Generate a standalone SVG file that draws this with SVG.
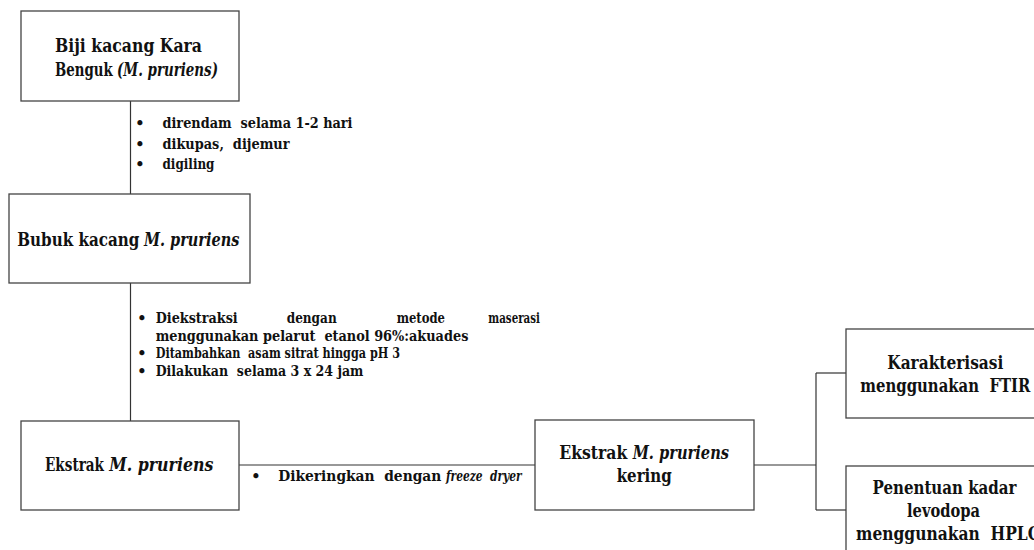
<svg xmlns="http://www.w3.org/2000/svg" width="1034" height="550" viewBox="0 0 1034 550">
<style>
.box{fill:#fff;stroke:#444;stroke-width:1.3}
.ln{fill:none;stroke:#333;stroke-width:1.2}
.bt{font-weight:bold;font-size:18px;fill:#111}
.st{font-weight:bold;font-size:14.5px;fill:#111}
.i{font-style:italic}
</style>
<rect width="1034" height="550" fill="#fff"/>
<g id="connectors">
<line class="ln" x1="130.5" y1="101" x2="130.5" y2="194"/>
<line class="ln" x1="130.5" y1="283" x2="130.5" y2="421"/>
<line class="ln" x1="239" y1="465" x2="535" y2="465"/>
<line class="ln" x1="754" y1="465" x2="816" y2="465"/>
<line class="ln" x1="816" y1="373" x2="816" y2="510"/>
<line class="ln" x1="816" y1="373" x2="846" y2="373"/>
<line class="ln" x1="816" y1="510" x2="846" y2="510"/>
</g>
<g font-family="'DejaVu Serif', serif">
<g id="node-biji">
<rect class="box" x="21" y="11" width="218" height="90"/>
<text class="bt" x="55" y="52" textLength="147" lengthAdjust="spacingAndGlyphs">Biji kacang Kara</text>
<text class="bt" x="55" y="76" textLength="57.7" lengthAdjust="spacingAndGlyphs">Benguk</text>
<text class="bt i" x="117" y="76" textLength="101" lengthAdjust="spacingAndGlyphs">(M. pruriens)</text>
</g>
<g id="label-1">
<text class="st" x="140" y="128" text-anchor="middle">•</text>
<text class="st" x="162.5" y="128" xml:space="preserve" textLength="190" lengthAdjust="spacingAndGlyphs">direndam  selama 1-2 hari</text>
<text class="st" x="140" y="148.5" text-anchor="middle">•</text>
<text class="st" x="162.5" y="148.5" xml:space="preserve" textLength="127" lengthAdjust="spacingAndGlyphs">dikupas,  dijemur</text>
<text class="st" x="140" y="168.5" text-anchor="middle">•</text>
<text class="st" x="162.5" y="168.5" textLength="52" lengthAdjust="spacingAndGlyphs">digiling</text>
</g>
<g id="node-bubuk">
<rect class="box" x="9" y="194" width="241" height="89"/>
<text class="bt" x="17.3" y="246" textLength="122" lengthAdjust="spacingAndGlyphs">Bubuk kacang</text>
<text class="bt i" x="144" y="246" textLength="95.3" lengthAdjust="spacingAndGlyphs">M. pruriens</text>
</g>
<g id="label-2">
<text class="st" x="142" y="323" text-anchor="middle">•</text>
<text class="st" x="155.7" y="323" textLength="82" lengthAdjust="spacingAndGlyphs">Diekstraksi</text>
<text class="st" x="286.7" y="323" textLength="50" lengthAdjust="spacingAndGlyphs">dengan</text>
<text class="st" x="396.7" y="323" textLength="48.3" lengthAdjust="spacingAndGlyphs">metode</text>
<text class="st" x="488.3" y="323" textLength="51.7" lengthAdjust="spacingAndGlyphs">maserasi</text>
<text class="st" x="155.7" y="340.5" xml:space="preserve" textLength="312.7" lengthAdjust="spacingAndGlyphs">menggunakan pelarut  etanol 96%:akuades</text>
<text class="st" x="142" y="358" text-anchor="middle">•</text>
<text class="st" x="155.7" y="358" xml:space="preserve" textLength="244.3" lengthAdjust="spacingAndGlyphs">Ditambahkan  asam sitrat hingga pH 3</text>
<text class="st" x="142" y="375.5" text-anchor="middle">•</text>
<text class="st" x="155.7" y="375.5" xml:space="preserve" textLength="207.7" lengthAdjust="spacingAndGlyphs">Dilakukan  selama 3 x 24 jam</text>
</g>
<g id="node-ekstrak">
<rect class="box" x="21" y="421" width="218" height="89"/>
<text class="bt" x="45" y="471" textLength="59" lengthAdjust="spacingAndGlyphs">Ekstrak</text>
<text class="bt i" x="109.3" y="471" textLength="104" lengthAdjust="spacingAndGlyphs">M. pruriens</text>
</g>
<g id="label-3">
<text class="st" x="256" y="481" text-anchor="middle">•</text>
<text class="st" x="278.3" y="481" xml:space="preserve" textLength="163" lengthAdjust="spacingAndGlyphs">Dikeringkan  dengan</text>
<text class="st i" x="446" y="481" xml:space="preserve" textLength="75.7" lengthAdjust="spacingAndGlyphs">freeze  dryer</text>
</g>
<g id="node-ekstrak-kering">
<rect class="box" x="535" y="420" width="219" height="90"/>
<text class="bt" x="559.3" y="459" textLength="68" lengthAdjust="spacingAndGlyphs">Ekstrak</text>
<text class="bt i" x="632.7" y="459" textLength="96.3" lengthAdjust="spacingAndGlyphs">M. pruriens</text>
<text class="bt" x="644.2" y="481.5" text-anchor="middle" textLength="55" lengthAdjust="spacingAndGlyphs">kering</text>
</g>
<g id="node-ftir">
<rect class="box" x="846" y="329" width="200" height="89"/>
<text class="bt" x="945.3" y="369" text-anchor="middle" textLength="116" lengthAdjust="spacingAndGlyphs">Karakterisasi</text>
<text class="bt" x="945.3" y="391.5" text-anchor="middle" xml:space="preserve" textLength="170" lengthAdjust="spacingAndGlyphs">menggunakan  FTIR</text>
</g>
<g id="node-hplc">
<rect class="box" x="846" y="466" width="200" height="100"/>
<text class="bt" x="944.5" y="494" text-anchor="middle" textLength="144" lengthAdjust="spacingAndGlyphs">Penentuan kadar</text>
<text class="bt" x="943.5" y="517" text-anchor="middle" textLength="73" lengthAdjust="spacingAndGlyphs">levodopa</text>
<text class="bt" x="948" y="540" text-anchor="middle" xml:space="preserve" textLength="184" lengthAdjust="spacingAndGlyphs">menggunakan  HPLC</text>
</g>
</g>
</svg>
